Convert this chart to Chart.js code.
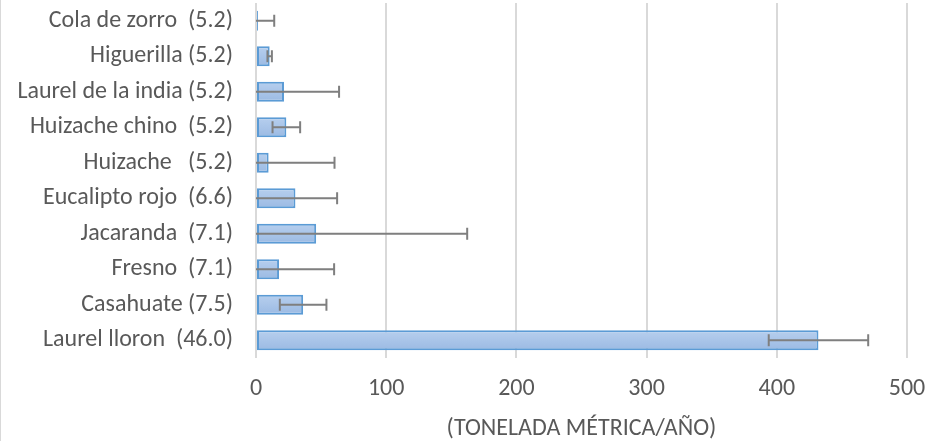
<!DOCTYPE html>
<html>
<head>
<meta charset="utf-8">
<script src="https://cdn.jsdelivr.net/npm/chart.js@4/dist/chart.umd.min.js"></script>
<style>
  html, body { margin: 0; padding: 0; background: #fff; }
  #wrap { position: relative; width: 931px; height: 441px; box-sizing: border-box; border-left: 1px solid #d9d9d9; }
  canvas { display: block; }
</style>
</head>
<body>
<div id="wrap"><canvas id="c" width="930" height="441"></canvas></div>
<script>
// Species (with the value shown in brackets beside each name)
const species = [
  'Cola de zorro  (5.2)',
  'Higuerilla (5.2)',
  'Laurel de la india (5.2)',
  'Huizache chino  (5.2)',
  'Huizache   (5.2)',
  'Eucalipto rojo  (6.6)',
  'Jacaranda  (7.1)',
  'Fresno  (7.1)',
  'Casahuate (7.5)',
  'Laurel lloron  (46.0)'
];
// Annual amount per species, tonelada métrica / año
const amounts = [1.5, 10.5, 21.5, 23.3, 9.7, 30.3, 46.2, 17.7, 36.2, 432];
// Symmetric error (± around each amount)
const errors = [12.5, 1.7, 42.3, 10.6, 50.6, 32.0, 116, 42.3, 17.9, 38.2];
const xTicks = [0, 100, 200, 300, 400, 500];

const FONT = 'Carlito, Calibri, Lato, sans-serif';
const GREY = '#595959';

// Whisker plugin: draws ± error lines with end caps, clipped to the axis range
const errorBars = {
  id: 'errorBars',
  afterDatasetsDraw(chart) {
    const { ctx, scales: { x, y } } = chart;
    ctx.save();
    ctx.strokeStyle = '#7f7f7f';
    ctx.lineWidth = 2;
    amounts.forEach((v, i) => {
      const cy = y.getPixelForValue(i);
      const lo = Math.max(v - errors[i], x.min);
      const hi = Math.min(v + errors[i], x.max);
      const x1 = x.getPixelForValue(lo);
      const x2 = x.getPixelForValue(hi);
      ctx.beginPath();
      ctx.moveTo(x1, cy); ctx.lineTo(x2, cy);
      if (v - errors[i] >= x.min) { ctx.moveTo(x1, cy - 6); ctx.lineTo(x1, cy + 6); }
      ctx.moveTo(x2, cy - 6); ctx.lineTo(x2, cy + 6);
      ctx.stroke();
    });
    ctx.restore();
  }
};

new Chart(document.getElementById('c'), {
  type: 'bar',
  data: {
    labels: species,
    datasets: [{
      data: amounts,
      backgroundColor(ctx) {
        const chart = ctx.chart;
        const y = chart.scales.y;
        const cy = y ? y.getPixelForValue(ctx.dataIndex) : NaN;
        if (!isFinite(cy)) return '#a9c5ea';
        const g = chart.ctx.createLinearGradient(0, cy - 10, 0, cy + 10);
        g.addColorStop(0, '#b7cfee');
        g.addColorStop(1, '#9bbae3');
        return g;
      },
      borderColor: '#5b9bd5',
      borderWidth: 2,
      borderSkipped: false,
      categoryPercentage: 1,
      barPercentage: 0.56
    }]
  },
  options: {
    indexAxis: 'y',
    responsive: false,
    animation: false,
    layout: { padding: { left: 0, right: 24, top: 3, bottom: 0 } },
    plugins: { legend: { display: false }, tooltip: { enabled: false } },
    scales: {
      x: {
        min: 0, max: 500,
        afterBuildTicks(scale) { scale.ticks = xTicks.map(v => ({ value: v })); },
        afterFit(scale) {
          scale.height = 83;
          scale.paddingLeft = 0;
          scale.paddingRight = 0;
        },
        grid: { color: '#d9d9d9', lineWidth: 2, drawTicks: false },
        border: { display: false },
        ticks: { color: GREY, font: { family: FONT, size: 24 }, padding: 17 },
        title: {
          display: true,
          text: '(TONELADA MÉTRICA/AÑO)',
          color: GREY,
          font: { family: FONT, size: 24 },
          padding: { top: 0, bottom: -2 }
        }
      },
      y: {
        afterFit(scale) {
          scale.width = 255;
          scale.paddingTop = 0;
          scale.paddingBottom = 0;
        },
        grid: { display: false, drawTicks: false },
        border: { display: false },
        ticks: { color: GREY, font: { family: FONT, size: 24 }, padding: 23, autoSkip: false }
      }
    }
  },
  plugins: [errorBars]
});
</script>
</body>
</html>
